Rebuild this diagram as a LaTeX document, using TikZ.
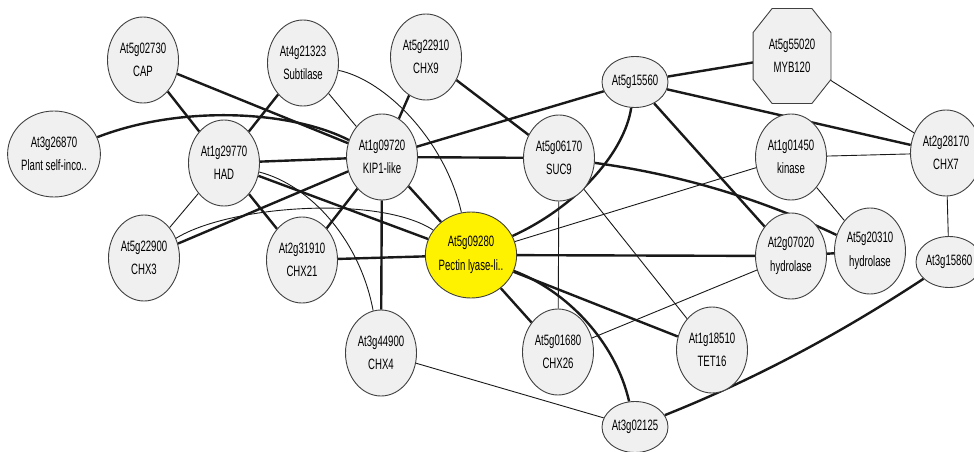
\documentclass[tikz,border=0pt]{standalone}
\usepackage{fontspec}
\setmainfont{Liberation Sans}[FakeStretch=0.64]
\usetikzlibrary{shapes.geometric,backgrounds}

\tikzset{
  gene/.style={ellipse, draw=black!75, line width=0.9pt, fill=black!6,
    minimum width=71pt, minimum height=86pt, inner sep=0pt, align=center,
    font=\fontsize{15}{23.5}\selectfont},
  tiny/.style={gene, minimum width=66pt, minimum height=51pt},
  query/.style={gene, fill=yellow, minimum width=88pt},
  strong/.style={line width=2.4pt, black!90},
  weak/.style={line width=0.9pt, black!90},
}

\begin{document}
\begin{tikzpicture}[x=1pt, y=-1pt]
  \useasboundingbox (0,0) rectangle (974,452);
  %top row
  \node[gene] (cap) at (143,60) {At5g02730\\CAP};
  \node[gene] (subt) at (303,63) {At4g21323\\Subtilase};
  \node[gene] (chx9) at (426,57) {At5g22910\\CHX9};
  \node[tiny] (g15560) at (635,82) {At5g15560};
  \node[gene, shape=rectangle, draw=none, fill=none, minimum width=77pt, minimum height=94pt] (myb) at (792,56) {At5g55020\\MYB120};
  %middle row
  \node[gene, minimum width=92pt] (selfinc) at (54,154) {At3g26870\\Plant self-inco..};
  \node[gene] (had) at (224,163) {At1g29770\\HAD};
  \node[gene] (kip) at (382,157) {At1g09720\\KIP1-like};
  \node[gene] (suc9) at (559,158) {At5g06170\\SUC9};
  \node[gene] (kin) at (791,157) {At1g01450\\kinase};
  \node[gene] (chx7) at (946,153) {At2g28170\\CHX7};
  %lower rows
  \node[gene] (chx3) at (144,258) {At5g22900\\CHX3};
  \node[gene] (chx21) at (302,260) {At2g31910\\CHX21};
  \node[query] (pect) at (471,255) {At5g09280\\Pectin lyase-li..};
  \node[gene] (hyd1) at (791,256) {At2g07020\\hydrolase};
  \node[gene] (hyd2) at (870,251) {At5g20310\\hydrolase};
  \node[tiny] (g15860) at (949,262) {At3g15860};
  \node[gene] (chx4) at (381,353) {At3g44900\\CHX4};
  \node[gene] (chx26) at (558,352) {At5g01680\\CHX26};
  \node[gene] (tet16) at (712,350) {At1g18510\\TET16};
  \node[tiny] (g02125) at (635,427) {At3g02125};

  \begin{pgfonlayer}{background}
    %strong links
    \draw[strong] (cap) -- (had);
    \draw[strong] (cap) -- (kip);
    \draw[strong] (selfinc) .. controls (180,105) and (290,110) .. (kip);
    \draw[strong] (subt) -- (had);
    \draw[strong] (chx9) -- (kip);
    \draw[strong] (chx9) -- (suc9);
    \draw[strong] (had) -- (kip);
    \draw[strong] (had) -- (chx21);
    \draw[strong] (had) -- (pect);
    \draw[strong] (kip) -- (g15560);
    \draw[strong] (kip) -- (suc9);
    \draw[strong] (kip) -- (chx4);
    \draw[strong] (kip) -- (pect);
    \draw[strong] (chx3) -- (kip);
    \draw[strong] (chx21) -- (kip);
    \draw[strong] (chx21) -- (pect);
    \draw[strong] (pect) .. controls (580,205) and (625,150) .. (g15560);
    \draw[strong] (pect) -- (hyd1);
    \draw[strong] (pect) -- (chx26);
    \draw[strong] (pect) -- (tet16);
    \draw[strong] (pect) .. controls (565,290) and (615,340) .. (g02125);
    \draw[strong] (g15560) -- (myb.center);
    \draw[strong] (g15560) -- (chx7);
    \draw[strong] (g15560) -- (hyd1);
    \draw[strong] (suc9) .. controls (676,174) and (757,197) .. (hyd2);
    \draw[strong] (hyd1) -- (hyd2);
    \draw[strong] (g15860) .. controls (838,335) and (753,380) .. (g02125);
    %weak links
    \draw[weak] (subt) -- (kip);
    \draw[weak] (subt) .. controls (385,80) and (445,140) .. (pect);
    \draw[weak] (had) -- (chx3);
    \draw[weak] (had) .. controls (310,185) and (360,240) .. (chx4);
    \draw[weak] (chx3) .. controls (230,205) and (380,195) .. (pect);
    \draw[weak] (chx4) -- (g02125);
    \draw[weak] (pect) -- (kin);
    \draw[weak] (suc9) -- (chx26);
    \draw[weak] (suc9) -- (tet16);
    \draw[weak] (chx26) -- (hyd1);
    \draw[weak] (myb.center) -- (chx7);
    \draw[weak] (kin) -- (chx7);
    \draw[weak] (kin) -- (hyd2);
    \draw[weak] (chx7) -- (g15860);
    %octagon for MYB120
    \filldraw[draw=black!75, line width=0.9pt, fill=black!6]
      ([xshift=19pt]myb.north west) -- ([xshift=-19pt]myb.north east)
      -- ([yshift=-24pt]myb.north east) -- ([yshift=24pt]myb.south east)
      -- ([xshift=-19pt]myb.south east) -- ([xshift=19pt]myb.south west)
      -- ([yshift=24pt]myb.south west) -- ([yshift=-24pt]myb.north west) -- cycle;
  \end{pgfonlayer}
\end{tikzpicture}
\end{document}
